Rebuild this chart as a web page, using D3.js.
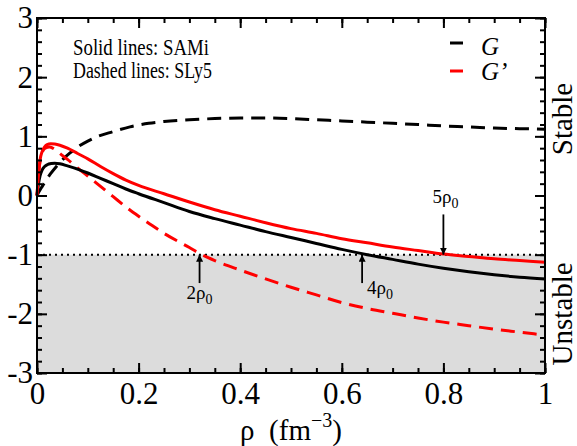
<!DOCTYPE html>
<html><head><meta charset="utf-8">
<script src="https://cdn.jsdelivr.net/npm/d3@7"></script>
<style>body{margin:0;background:#fff}svg{display:block}</style>
</head><body><svg id="c" width="577" height="446"></svg>
<script>
// ---- data ----
const samiG_rho = [0,0.003,0.006,0.01,0.015,0.02,0.028,0.035,0.045,0.06,0.085,0.1,0.125,0.15,0.175,0.2,0.25,0.3,0.35,0.4,0.45,0.5,0.55,0.6,0.65,0.7,0.75,0.8,0.85,0.9,0.95,1.0];
const samiG_val = [0,0.2,0.33,0.43,0.49,0.52,0.54,0.545,0.535,0.5,0.43,0.38,0.29,0.2,0.11,0.03,-0.12,-0.27,-0.39,-0.50,-0.61,-0.71,-0.81,-0.91,-1.00,-1.08,-1.16,-1.23,-1.29,-1.34,-1.38,-1.41];

const samiGp_rho = [0,0.003,0.006,0.01,0.015,0.02,0.027,0.035,0.045,0.06,0.08,0.1,0.125,0.15,0.175,0.2,0.25,0.3,0.35,0.4,0.45,0.5,0.55,0.6,0.65,0.7,0.75,0.8,0.85,0.9,0.95,1.0];
const samiGp_val = [0,0.35,0.6,0.74,0.82,0.86,0.875,0.87,0.85,0.8,0.71,0.62,0.49,0.37,0.26,0.17,0.03,-0.11,-0.24,-0.35,-0.46,-0.56,-0.64,-0.73,-0.80,-0.87,-0.93,-0.99,-1.03,-1.07,-1.10,-1.13];

const slyG_rho = [0,0.005,0.01,0.018,0.026,0.04,0.052,0.065,0.08,0.1,0.117,0.15,0.183,0.22,0.25,0.3,0.35,0.4,0.45,0.5,0.55,0.6,0.65,0.7,0.75,0.8,0.85,0.9,0.95,1.0];
const slyG_val = [0,0.08,0.15,0.26,0.36,0.51,0.62,0.72,0.82,0.92,0.99,1.08,1.16,1.22,1.25,1.28,1.30,1.31,1.31,1.30,1.28,1.26,1.24,1.22,1.20,1.175,1.16,1.14,1.13,1.12];

const slyGp_rho = [0,0.003,0.006,0.01,0.016,0.025,0.035,0.045,0.06,0.085,0.1,0.117,0.15,0.176,0.2,0.222,0.25,0.3,0.32,0.35,0.4,0.45,0.5,0.55,0.6,0.65,0.7,0.75,0.8,0.85,0.9,0.95,1.0];
const slyGp_val = [0,0.35,0.58,0.72,0.8,0.82,0.78,0.71,0.61,0.43,0.33,0.21,-0.02,-0.2,-0.35,-0.48,-0.64,-0.88,-0.98,-1.1,-1.26,-1.41,-1.55,-1.68,-1.81,-1.91,-1.99,-2.07,-2.14,-2.2,-2.26,-2.31,-2.36];

const xTicks = [0,0.2,0.4,0.6,0.8,1];
const xTickLabels = ["0","0.2","0.4","0.6","0.8","1"];
const yTicks = [-3,-2,-1,0,1,2,3];
const yTickLabels = ["-3","-2","-1","0","1","2","3"];
const xMinor = d3.range(0,1.0001,0.05);
const yMinor = d3.range(-3,3.0001,0.2);

const annRho = [0.32,0.64,0.80];
const annMult = ["2","4","5"];
const stableLevel = -1;

// ---- layout ----
const svg = d3.select("#c");
const L=37,R=545,T=18,B=373;
const x = d3.scaleLinear().domain([0,1]).range([L,R]);
const y = d3.scaleLinear().domain([-3,3]).range([B,T]);
const serif = "Liberation Serif";

// unstable shading
svg.append("rect").attr("x",x(0)).attr("y",y(stableLevel)).attr("width",x(1)-x(0)).attr("height",y(-3)-y(stableLevel)).attr("fill","#dcdcdc");
// dotted line
svg.append("line").attr("x1",x(0)).attr("x2",x(1)).attr("y1",y(stableLevel)).attr("y2",y(stableLevel))
  .attr("stroke","#000").attr("stroke-width",2).attr("stroke-dasharray","2,4");

const line = d3.line().curve(d3.curveMonotoneX);
function draw(rho,val,color,dash){
  const p = svg.append("path").attr("d",line(rho.map((r,i)=>[x(r),y(val[i])])))
    .attr("fill","none").attr("stroke",color).attr("stroke-width",3).attr("stroke-linejoin","round");
  if(dash) p.attr("stroke-dasharray",dash);
}
draw(slyG_rho,slyG_val,"#000","14,8");
draw(slyGp_rho,slyGp_val,"#ff0000","14,8");
draw(samiG_rho,samiG_val,"#000",null);
draw(samiGp_rho,samiGp_val,"#ff0000",null);

// axes
function styleAxis(g){ g.select(".domain").remove(); g.selectAll("line").attr("stroke","#000").attr("stroke-width",2); }
const ax = [
  [d3.axisBottom(x).tickValues(xTicks).tickFormat((d,i)=>xTickLabels[i]).tickSize(-10).tickPadding(9), `translate(0,${B})`],
  [d3.axisBottom(x).tickValues(xMinor).tickFormat("").tickSize(-5), `translate(0,${B})`],
  [d3.axisTop(x).tickValues(xTicks).tickFormat("").tickSize(-10), `translate(0,${T})`],
  [d3.axisTop(x).tickValues(xMinor).tickFormat("").tickSize(-5), `translate(0,${T})`],
  [d3.axisLeft(y).tickValues(yTicks).tickFormat((d,i)=>yTickLabels[i]).tickSize(-10).tickPadding(4), `translate(${L},0)`],
  [d3.axisLeft(y).tickValues(yMinor).tickFormat("").tickSize(-5), `translate(${L},0)`],
  [d3.axisRight(y).tickValues(yTicks).tickFormat("").tickSize(-10), `translate(${R},0)`],
  [d3.axisRight(y).tickValues(yMinor).tickFormat("").tickSize(-5), `translate(${R},0)`],
];
ax.forEach(([a,t])=>{
  const g = svg.append("g").attr("transform",t).call(a);
  styleAxis(g);
  g.selectAll("text").attr("font-family",serif).attr("font-size",31).attr("fill","#000");
});
// frame
svg.append("rect").attr("x",L).attr("y",T).attr("width",R-L).attr("height",B-T).attr("fill","none").attr("stroke","#000").attr("stroke-width",2);

// x axis title
const xt = svg.append("text").attr("x",291).attr("y",440).attr("text-anchor","middle")
  .attr("font-family",serif).attr("font-size",29);
xt.append("tspan").text("\u03C1\u00A0\u00A0(fm");
xt.append("tspan").attr("dy",-13).attr("font-size",20).text("\u22123");
xt.append("tspan").attr("dy",13).text(")");

// text box
svg.append("text").attr("x",73).attr("y",55).attr("font-family",serif).attr("font-size",22.5)
  .attr("textLength",136).attr("lengthAdjust","spacingAndGlyphs").text("Solid lines: SAMi");
svg.append("text").attr("x",73).attr("y",78).attr("font-family",serif).attr("font-size",22.5)
  .attr("textLength",139).attr("lengthAdjust","spacingAndGlyphs").text("Dashed lines: SLy5");

// legend
const leg = [["#000","G",43,55],["#ff0000","G\u2019",71,80]];
leg.forEach(([c,t,ly,ty])=>{
  svg.append("line").attr("x1",450).attr("x2",463).attr("y1",ly).attr("y2",ly).attr("stroke",c).attr("stroke-width",3);
  svg.append("text").attr("x",481).attr("y",ty).attr("font-family",serif).attr("font-style","italic").attr("font-size",25).text(t);
});

// Stable / Unstable
[["Stable",119],["Unstable",(y(-1)+y(-3))/2]].forEach(([t,cy])=>{
  svg.append("text").attr("transform",`translate(572,${cy}) rotate(-90)`).attr("text-anchor","middle")
    .attr("font-family",serif).attr("font-size",29).text(t);
});

// arrows
const defs = svg.append("defs");
defs.append("marker").attr("id","ah").attr("viewBox","0 0 10 10").attr("refX",10).attr("refY",5)
  .attr("markerWidth",7).attr("markerHeight",7).attr("markerUnits","userSpaceOnUse").attr("orient","auto")
  .append("path").attr("d","M0,0 L10,5 L0,10 Z").attr("fill","#000");
function arrow(r,fromV,toV){
  svg.append("line").attr("x1",x(r)).attr("x2",x(r)).attr("y1",y(fromV)).attr("y2",y(toV))
    .attr("stroke","#000").attr("stroke-width",1.8).attr("marker-end","url(#ah)");
}
function lab(m,tx,ty,anchor){
  const t = svg.append("text").attr("x",tx).attr("y",ty).attr("text-anchor",anchor).attr("font-family",serif).attr("font-size",19);
  t.append("tspan").text(m+"\u03C1");
  t.append("tspan").attr("dy",5).attr("font-size",14).text("0");
}
arrow(annRho[0],-1.48,stableLevel);
lab(annMult[0],x(annRho[0]),299,"middle");
arrow(annRho[1],-1.48,stableLevel);
lab(annMult[1],x(annRho[1])+5,294,"start");
arrow(annRho[2],-0.32,stableLevel);
lab(annMult[2],x(annRho[2])+2,203,"middle");
</script></body></html>
